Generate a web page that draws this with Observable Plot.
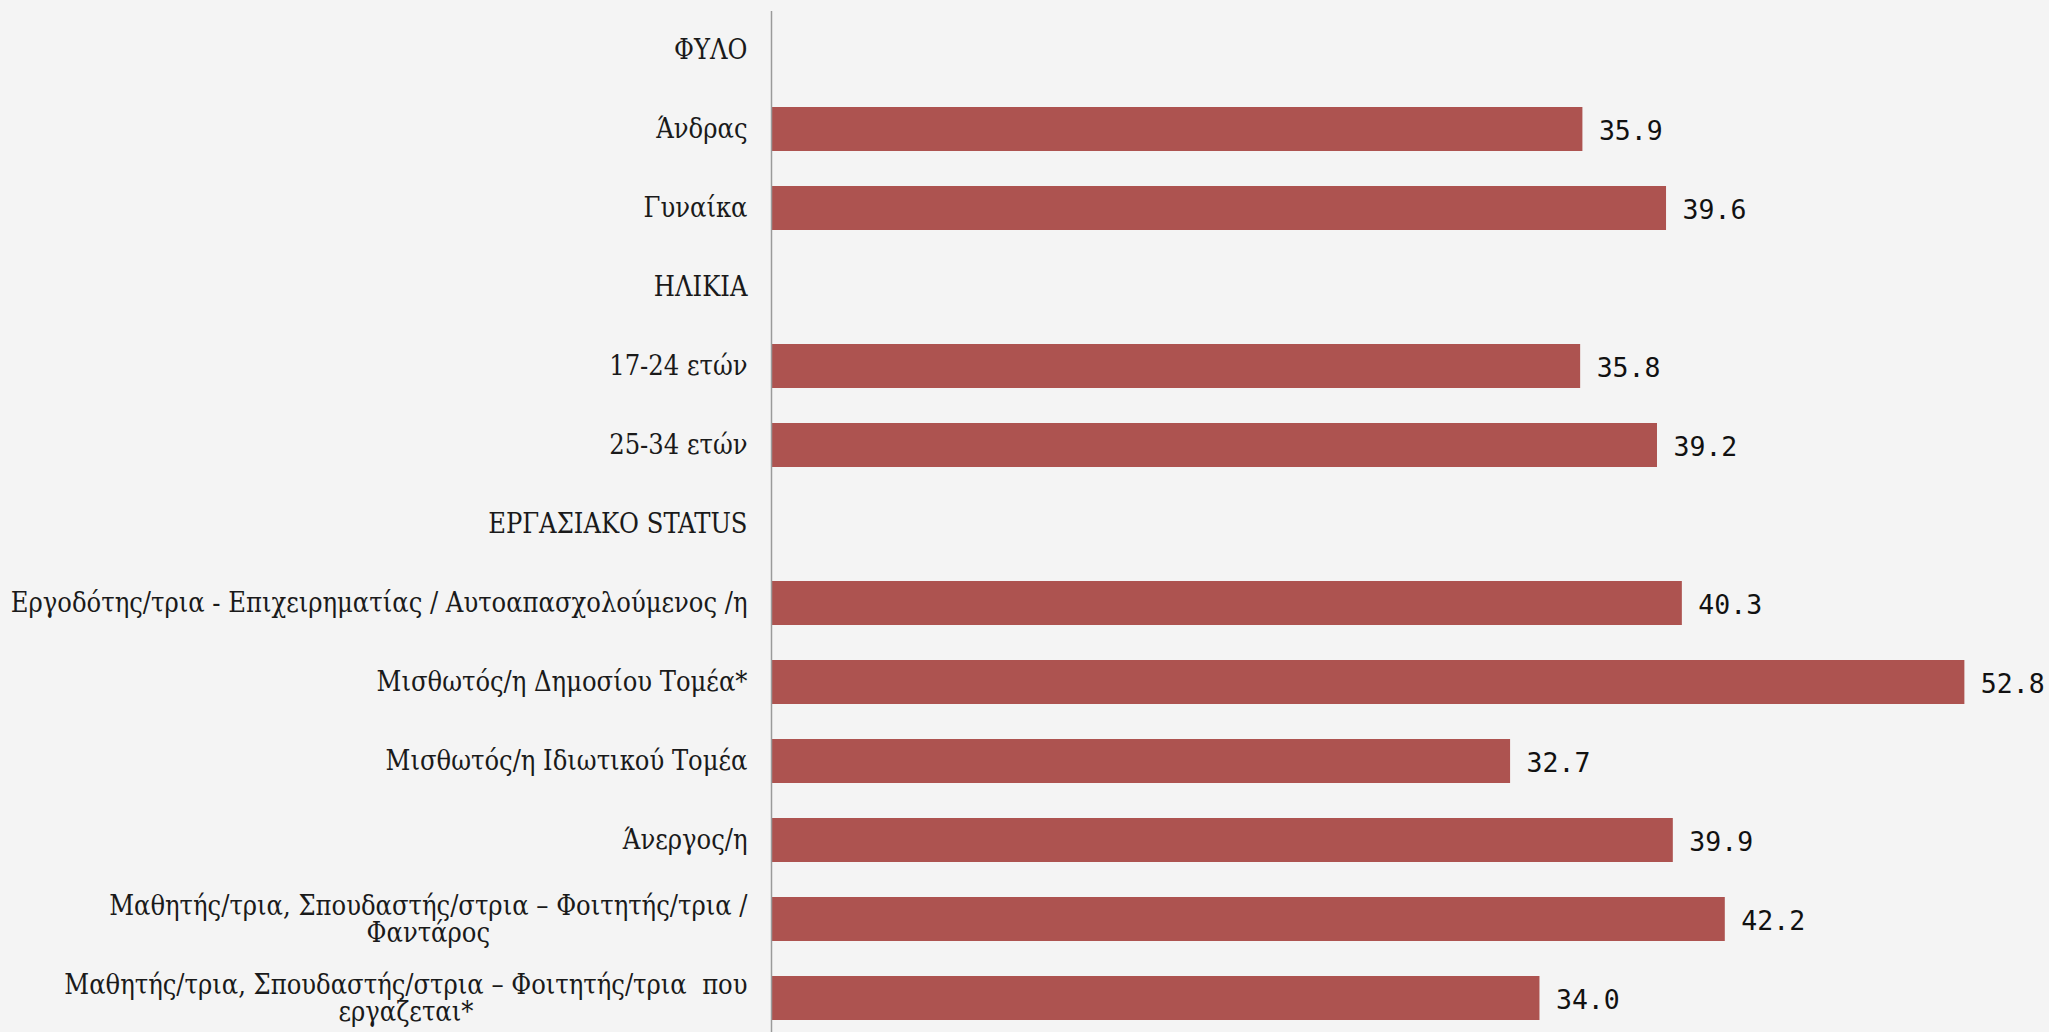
<!DOCTYPE html>
<html><head><meta charset="utf-8">
<script src="https://cdn.jsdelivr.net/npm/d3@7"></script>
<script src="https://cdn.jsdelivr.net/npm/@observablehq/plot@0.6"></script>
<style>
html,body{margin:0;padding:0;background:#f4f4f4;overflow:hidden;}
svg text{white-space:pre;}
.lbl{font-stretch:condensed;}
</style></head><body><div id="chart"></div>
<script>
const categories = [
  "ΦΥΛΟ",
  "Άνδρας",
  "Γυναίκα",
  "ΗΛΙΚΙΑ",
  "17-24 ετών",
  "25-34 ετών",
  "ΕΡΓΑΣΙΑΚΟ STATUS",
  "Εργοδότης/τρια - Επιχειρηματίας / Αυτοαπασχολούμενος /η",
  "Μισθωτός/η Δημοσίου Τομέα*",
  "Μισθωτός/η Ιδιωτικού Τομέα",
  "Άνεργος/η",
  "Μαθητής/τρια, Σπουδαστής/στρια – Φοιτητής/τρια /\nΦαντάρος",
  "Μαθητής/τρια, Σπουδαστής/στρια – Φοιτητής/τρια  που\nεργαζεται*"
];
const values = [null, 35.9, 39.6, null, 35.8, 39.2, null, 40.3, 52.8, 32.7, 39.9, 42.2, 34.0];

const rows = categories.map((c, i) => ({cat: c, value: values[i]}));
const withValues = rows.filter(d => d.value != null);

const labelFont = "'DejaVu Serif Condensed', 'DejaVu Serif', serif";
const labelSize = 27;
const valueFont = "'DejaVu Sans Mono', monospace";
const valueSize = 26.5;
const barColor = "#ad5350";

// measure label widths with an off-screen SVG text using the same font settings
const ns = "http://www.w3.org/2000/svg";
const msvg = document.createElementNS(ns, "svg");
msvg.setAttribute("style", "position:absolute;left:-9999px;top:0");
document.body.appendChild(msvg);
const mtext = document.createElementNS(ns, "text");
mtext.setAttribute("class", "lbl");
mtext.setAttribute("font-family", labelFont);
mtext.setAttribute("font-size", labelSize);
msvg.appendChild(mtext);
function blockWidth(s) {
  return Math.max(...s.split("\n").map(l => { mtext.textContent = l; return mtext.getComputedTextLength(); }));
}
const widths = categories.map(blockWidth);
msvg.remove();

const labelMarks = rows.map((d, i) => Plot.text([d], {
  x: () => 0,
  y: "cat",
  text: "cat",
  textAnchor: "middle",
  lineAnchor: "middle",
  lineHeight: 1.03,
  dx: -(24 + widths[i] / 2),
  fontFamily: labelFont,
  fontSize: labelSize,
  fill: "#1a1a1a",
  className: "lbl"
}));

const chart = Plot.plot({
  width: 2049,
  height: 1032,
  marginLeft: 771,
  marginRight: 1,
  marginTop: 11,
  marginBottom: 0,
  style: {background: "#f4f4f4", overflow: "visible"},
  x: {domain: [0, 56.5], axis: null},
  y: {domain: categories, range: [11, 1038], paddingInner: 0.44, paddingOuter: 0.22, axis: null},
  marks: [
    Plot.barX(withValues, {x: "value", y: "cat", fill: barColor}),
    Plot.ruleX([0], {stroke: "#9a9a9a", strokeWidth: 1.5}),
    Plot.text(withValues, {
      x: "value", y: "cat",
      text: d => d.value.toFixed(1),
      textAnchor: "start", dx: 16, dy: 2,
      fontFamily: valueFont, fontSize: valueSize, fill: "#111"
    }),
    ...labelMarks
  ]
});
document.getElementById("chart").appendChild(chart);
</script>
</body></html>
